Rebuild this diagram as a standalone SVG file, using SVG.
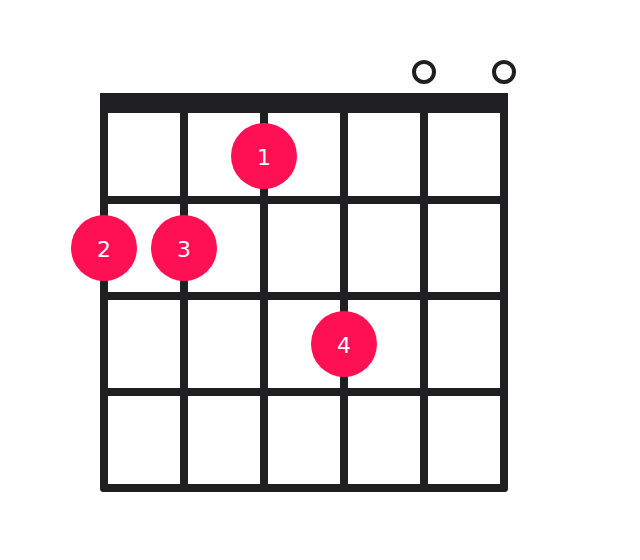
<svg xmlns="http://www.w3.org/2000/svg" width="640" height="560" viewBox="0 0 640 560">
<style>
.ln{stroke:#1f1f21;stroke-width:8;stroke-linecap:round;fill:none}
.open{stroke:#1f1f21;stroke-width:4;fill:none}
.dot{fill:#ff0f54}
.lbl{fill:#ffffff;font-family:"DejaVu Sans",Verdana,sans-serif;font-size:22px;text-anchor:middle;dominant-baseline:central}
</style>
<rect width="640" height="560" fill="#ffffff"/>
<g id="grid">
<rect id="nut" x="100" y="93" width="408" height="20" fill="#1f1f21"/>
<line class="ln" x1="104" y1="105" x2="104" y2="488"/>
<line class="ln" x1="184" y1="105" x2="184" y2="488"/>
<line class="ln" x1="264" y1="105" x2="264" y2="488"/>
<line class="ln" x1="344" y1="105" x2="344" y2="488"/>
<line class="ln" x1="424" y1="105" x2="424" y2="488"/>
<line class="ln" x1="504" y1="105" x2="504" y2="488"/>
<line class="ln" x1="104" y1="200" x2="504" y2="200"/>
<line class="ln" x1="104" y1="296" x2="504" y2="296"/>
<line class="ln" x1="104" y1="392" x2="504" y2="392"/>
<line class="ln" x1="104" y1="488" x2="504" y2="488"/>
</g>
<g id="open5"><circle class="open" cx="424" cy="72" r="10"/></g>
<g id="open6"><circle class="open" cx="504" cy="72" r="10"/></g>
<g id="finger1"><circle class="dot" cx="264" cy="156" r="33"/><text class="lbl" x="264" y="157">1</text></g>
<g id="finger2"><circle class="dot" cx="104" cy="248" r="33"/><text class="lbl" x="104" y="249">2</text></g>
<g id="finger3"><circle class="dot" cx="184" cy="248" r="33"/><text class="lbl" x="184" y="249">3</text></g>
<g id="finger4"><circle class="dot" cx="344" cy="344" r="33"/><text class="lbl" x="344" y="345">4</text></g>
</svg>
